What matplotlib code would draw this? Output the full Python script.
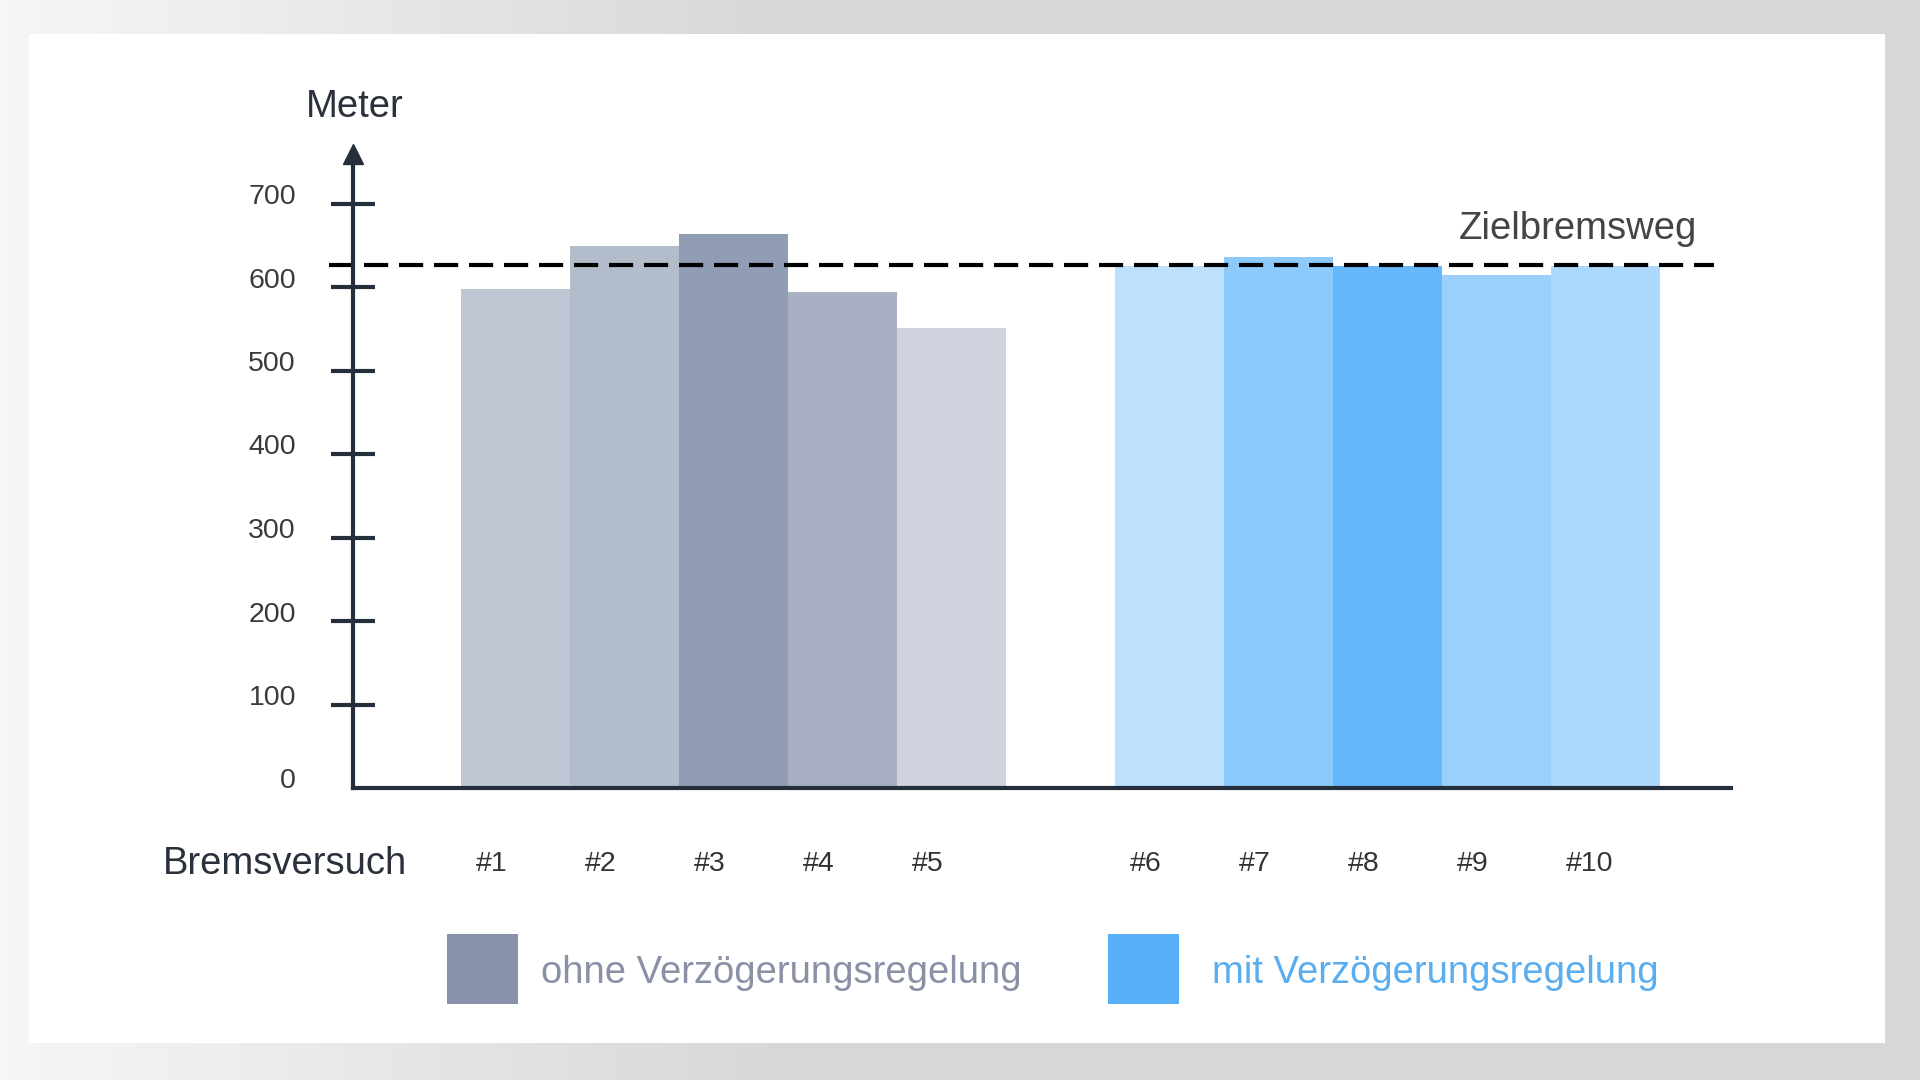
import matplotlib
matplotlib.use("Agg")
import matplotlib.pyplot as plt
import matplotlib.transforms as mtransforms
from matplotlib.patches import Rectangle
import numpy as np

plt.rcParams["font.family"] = ["Liberation Sans", "DejaVu Sans"]

# data
trial_labels = ["#1", "#2", "#3", "#4", "#5", "#6", "#7", "#8", "#9", "#10"]
trial_pos = [0, 1, 2, 3, 4, 6, 7, 8, 9, 10]
distances = [598, 649, 664, 594, 551, 625, 636, 625, 614, 625]
bar_colors = [
    "#c0c7d4", "#b3bccb", "#919db4", "#a9b0c3", "#cfd4de",
    "#bde0fd", "#8ccafc", "#66b8fc", "#9bd0fd", "#acd8fd",
]
target_distance = 626
y_ticks = [0, 100, 200, 300, 400, 500, 600, 700]
legend_labels = ["ohne Verzögerungsregelung", "mit Verzögerungsregelung"]
legend_colors = ["#8892ab", "#58b0fb"]
legend_text_colors = ["#8a90a6", "#5aaef0"]

AXIS_COLOR = "#252e3b"
BAR_WIDTH = 1.0

fig = plt.figure(figsize=(19.2, 10.8), dpi=100)

# background with light gradient on the left and white panel
bg = fig.add_axes([0, 0, 1, 1], zorder=-10)
xx = np.linspace(0, 1, 400)
shade = 0.843 + 0.12 * np.clip(1 - xx / 0.4, 0, 1)
grad = np.tile(shade, (50, 1))
bg.imshow(grad, cmap="gray", vmin=0, vmax=1, aspect="auto", extent=[0, 1, 0, 1])
bg.add_patch(Rectangle((29 / 1920, 37 / 1080), 1856 / 1920, 1009 / 1080,
                       facecolor="white", edgecolor="none"))
bg.set_xlim(0, 1)
bg.set_ylim(0, 1)
bg.axis("off")

# main axes: y=0 at 788 px from top, 0.835 px per meter
ymax = 775
ax = fig.add_axes([353 / 1920, (1080 - 788) / 1080, 1378 / 1920, ymax * 0.835 / 1080])
ax.set_facecolor("none")
ax.set_xlim(-1.487, 11.15)
ax.set_ylim(0, ymax)

ax.bar(trial_pos, distances, width=BAR_WIDTH, color=bar_colors, linewidth=0, zorder=2)

# target line
ax.plot([-1.71, 10.99], [target_distance, target_distance], color="black", lw=3,
        dashes=(5.8, 2.6), clip_on=False, zorder=4)
ax.text(10.84, 669, "Zielbremsweg", ha="right", va="center", fontsize=27.5,
        color="#444444")

# axes styling
for side in ["top", "right"]:
    ax.spines[side].set_visible(False)
for side in ["left", "bottom"]:
    ax.spines[side].set_color(AXIS_COLOR)
    ax.spines[side].set_linewidth(3)
    ax.spines[side].set_zorder(5)
ax.spines["left"].set_bounds(0, 752)
ax.plot([0], [759], marker="^", markersize=15, color=AXIS_COLOR,
        transform=mtransforms.blended_transform_factory(ax.transAxes, ax.transData),
        clip_on=False, zorder=6)

ax.set_yticks(y_ticks[1:])
ax.set_yticklabels([])
ax.tick_params(axis="y", direction="inout", length=32, width=3, color=AXIS_COLOR)
ax.set_xticks([])

# y tick labels, nudged up a little
ylab_trans = ax.get_yaxis_transform() + mtransforms.ScaledTranslation(
    -0.57, 0.065, fig.dpi_scale_trans)
for v in y_ticks:
    ax.text(0, v, str(v), transform=ylab_trans, ha="right", va="center",
            fontsize=20.5, color="#3a3a3a")

# x labels under bars, left aligned a bit inside the bar's left edge
xlab_trans = ax.get_xaxis_transform() + mtransforms.ScaledTranslation(
    0.15, -0.76, fig.dpi_scale_trans)
for p, lab in zip(trial_pos, trial_labels):
    ax.text(p - BAR_WIDTH / 2, 0, lab, transform=xlab_trans, ha="left", va="center",
            fontsize=20.5, color="#333333")

fig.text(306 / 1920, 1 - 107 / 1080, "Meter", ha="left", va="center",
         fontsize=27.5, color="#2a313c")
fig.text(163 / 1920, 1 - 864 / 1080, "Bremsversuch", ha="left", va="center",
         fontsize=27.5, color="#2a313c")

# legend
box_x = [447, 1108]
text_x = [541, 1212]
for bx, tx, lab, c, tc in zip(box_x, text_x, legend_labels, legend_colors, legend_text_colors):
    bg.add_patch(Rectangle((bx / 1920, (1080 - 1004) / 1080), 71 / 1920, 70 / 1080,
                           facecolor=c, edgecolor="none"))
    fig.text(tx / 1920, 1 - 973 / 1080, lab, ha="left", va="center",
             fontsize=27.5, color=tc)

fig.savefig("out.png", dpi=100)
